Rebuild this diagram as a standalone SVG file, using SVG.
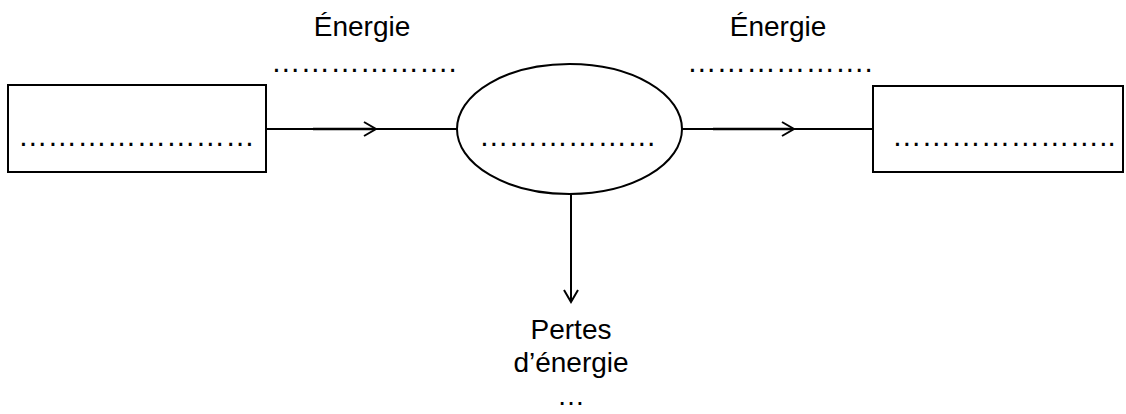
<svg xmlns="http://www.w3.org/2000/svg" width="1126" height="414" viewBox="0 0 1126 414">
<style>
.shape{fill:#fff;stroke:#000;stroke-width:2}
.line{fill:none;stroke:#000;stroke-width:2}
.head{fill:none;stroke:#000;stroke-width:2;stroke-linejoin:miter}
.t{font-family:"Liberation Sans",Arial,sans-serif;font-size:28px;fill:#000}
.d{font-family:"Liberation Sans",Arial,sans-serif;font-size:29.6px;fill:#000}
</style>
<rect width="1126" height="414" fill="#fff"/>
<g id="connectors">
<line class="line" x1="266" y1="129" x2="457" y2="129"/>
<line class="line" x1="313" y1="129" x2="375" y2="129" style="stroke-width:2.6"/>
<polyline class="head" points="364,122 376,129 364,136"/>
<line class="line" x1="682" y1="129" x2="873" y2="129"/>
<line class="line" x1="713" y1="129" x2="793" y2="129" style="stroke-width:2.6"/>
<polyline class="head" points="782,122 794,129 782,136"/>
<line class="line" x1="571" y1="194" x2="571" y2="301"/>
<polyline class="head" points="564,290 571,302 578,290"/>
</g>
<g id="source">
<rect class="shape" x="8" y="85" width="258" height="87"/>
<text class="d" x="18" y="146">……………………</text>
</g>
<g id="converter">
<ellipse class="shape" cx="569.5" cy="129" rx="112.5" ry="65"/>
<text class="d" x="479" y="146">………………</text>
</g>
<g id="receiver">
<rect class="shape" x="873" y="86" width="250" height="86"/>
<text class="d" x="892" y="146">…………………..</text>
</g>
<g id="energy-in">
<text class="t" x="362" y="36" text-anchor="middle">Énergie</text>
<text class="d" x="271" y="72">……………….</text>
</g>
<g id="energy-out">
<text class="t" x="778" y="36" text-anchor="middle">Énergie</text>
<text class="d" x="687" y="72">……………….</text>
</g>
<g id="losses">
<text class="t" text-anchor="middle"><tspan x="571" y="339">Pertes</tspan><tspan x="571" y="372">d’énergie</tspan><tspan x="571" y="405">…</tspan></text>
</g>
</svg>
